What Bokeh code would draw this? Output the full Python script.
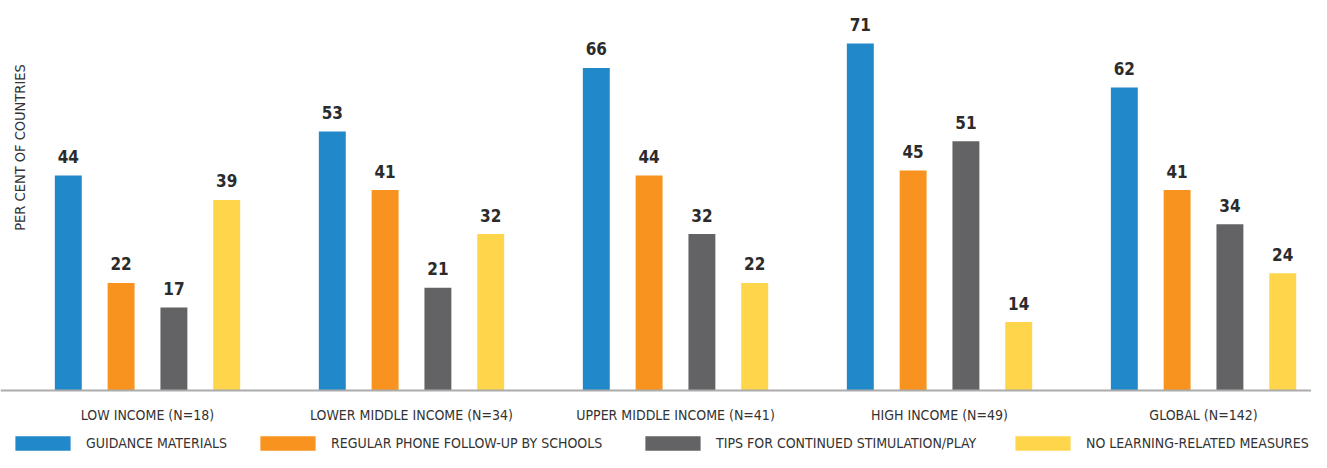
from math import pi
from bokeh.plotting import figure
from bokeh.models import ColumnDataSource, Range1d, Label, Legend, LegendItem, Span
from bokeh.transform import dodge
from bokeh.core.properties import value
from bokeh.embed import file_html
from bokeh.resources import INLINE

groups = ["LOW INCOME (N=18)", "LOWER MIDDLE INCOME (N=34)", "UPPER MIDDLE INCOME (N=41)",
          "HIGH INCOME (N=49)", "GLOBAL (N=142)"]
series_names = ["GUIDANCE MATERIALS", "REGULAR PHONE FOLLOW-UP BY SCHOOLS",
                "TIPS FOR CONTINUED STIMULATION/PLAY", "NO LEARNING-RELATED MEASURES"]
guidance = [44, 53, 66, 71, 62]
phone = [22, 41, 44, 45, 41]
tips = [17, 21, 32, 51, 34]
no_learning = [39, 32, 22, 14, 24]

colors = ["#2188C9", "#F7931E", "#636365", "#FFD54B"]
offsets = [-0.3, -0.1, 0.1, 0.3]
# left edge of each legend swatch (screen px); Bokeh insets area swatches by 10%
swatch_x = [15, 260, 645, 1015]
GLYPH_W = 69
GLYPH_H = 18

FONT = "DejaVu Sans Condensed, sans-serif"
TXT = "#333333"

src = ColumnDataSource(dict(idx=list(range(len(groups))), name=groups,
                            s0=guidance, s1=phone, s2=tips, s3=no_learning,
                            l0=[str(v) for v in guidance], l1=[str(v) for v in phone],
                            l2=[str(v) for v in tips], l3=[str(v) for v in no_learning]))

p = figure(width=1311, height=452, output_backend="svg", toolbar_location=None,
           x_range=Range1d(-0.5568, 4.409), y_range=Range1d(-12.687, 79.80),
           x_axis_location=None, y_axis_location=None,
           min_border_left=0, min_border_right=0, min_border_top=0, min_border_bottom=0)
p.outline_line_color = None
p.background_fill_color = "white"
p.border_fill_color = "white"
p.xgrid.grid_line_color = None
p.ygrid.grid_line_color = None

renderers = []
for k in range(4):
    r = p.vbar(x=dodge("idx", offsets[k], range=p.x_range), top="s%d" % k, width=0.102,
               bottom=0, source=src, fill_color=colors[k], line_color=None)
    renderers.append(r)
    p.text(x=dodge("idx", offsets[k], range=p.x_range), y="s%d" % k, text="l%d" % k,
           source=src, text_align="center", text_baseline="alphabetic", y_offset=-19,
           text_font=value(FONT), text_font_style="bold", text_font_size="17px",
           text_color="#2b2b2b")

# baseline (category axis line)
p.add_layout(Span(location=0, dimension="width", line_color="#ababab", line_width=2))

# category labels under the axis line
p.text(x="idx", y=0, text="name", source=src, text_align="center", text_baseline="middle",
       y_offset=25, text_font=value(FONT), text_font_size="14px", text_color=TXT)

p.add_layout(Label(x=19, y=305, x_units="screen", y_units="screen", angle=pi / 2,
                   text="PER CENT OF COUNTRIES", text_align="center", text_baseline="middle",
                   text_font=FONT, text_font_size="14.5px", text_color=TXT))

for k in range(4):
    leg = Legend(items=[LegendItem(label=series_names[k], renderers=[renderers[k]])],
                 location=(swatch_x[k] - 7, 0), orientation="horizontal",
                 padding=0, margin=0, spacing=0, border_line_color=None,
                 background_fill_alpha=0, glyph_width=GLYPH_W, glyph_height=GLYPH_H,
                 label_height=GLYPH_H, label_standoff=9,
                 label_text_font=FONT, label_text_font_size="14px",
                 label_text_color=TXT, label_text_baseline="middle")
    p.add_layout(leg, "center")

open("out.html", "w").write(file_html(p, INLINE))
